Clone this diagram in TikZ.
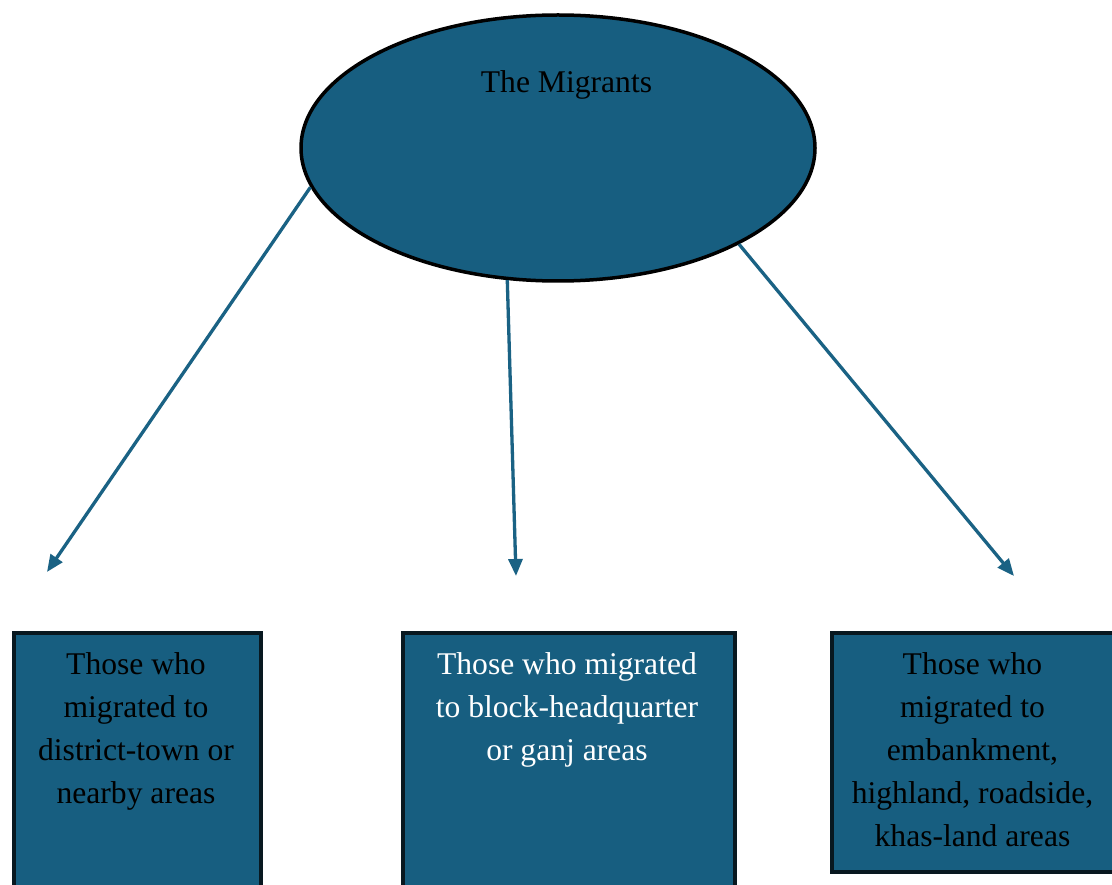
\documentclass[tikz,border=0pt]{standalone}
\usepackage{fontspec}
\setmainfont{Liberation Serif}
\usetikzlibrary{shapes.geometric,arrows.meta}
\definecolor{boxfill}{RGB}{23,94,128}
\definecolor{boxline}{RGB}{8,24,32}
\definecolor{arrowcol}{RGB}{26,98,132}
\tikzset{
  boxshape/.style={draw=boxline,fill=boxfill,line width=3.5pt,rectangle,inner sep=0pt,anchor=north west},
  boxtext/.style={align=center,inner sep=0pt,anchor=north,font=\fontsize{31.6}{43}\selectfont},
  conn/.style={draw=arrowcol,line width=3.3pt,-{Triangle[length=17pt,width=14pt]}}
}
\begin{document}
\begin{tikzpicture}[x=1pt,y=-1pt]
\useasboundingbox (0,0) rectangle (1112,885);
\clip (0,0) rectangle (1112,885);
\fill[white] (0,0) rectangle (1112,885);
\node[ellipse,draw=black,fill=boxfill,line width=3.5pt,minimum width=514pt,minimum height=266pt,inner sep=0pt] (m) at (558,148) {};
\node[boxtext,text=black] (mt) at (566.5,70) {The Migrants};
\node[boxshape,minimum width=247pt,minimum height=300pt] (b1) at (12,631) {};
\node[boxshape,minimum width=332pt,minimum height=300pt] (b2) at (401,631) {};
\node[boxshape,minimum width=300pt,minimum height=239pt] (b3) at (830,631) {};
\node[boxtext,text=black] (t1) at (136,652) {Those who\\migrated to\\district-town or\\nearby areas};
\node[boxtext,text=white] (t2) at (567,652) {Those who migrated\\to block-headquarter\\or ganj areas};
\node[boxtext,text=black] (t3) at (972.5,652) {Those who\\migrated to\\embankment,\\highland, roadside,\\khas-land areas};
\coordinate (e1) at (47,572);
\coordinate (e2) at (516,576);
\coordinate (e3) at (1014,576);
\draw[conn] (m.189.8) -- (e1);
\draw[conn] (m.249.7) -- (e2);
\draw[conn] (m.332.8) -- (e3);
\end{tikzpicture}
\end{document}
